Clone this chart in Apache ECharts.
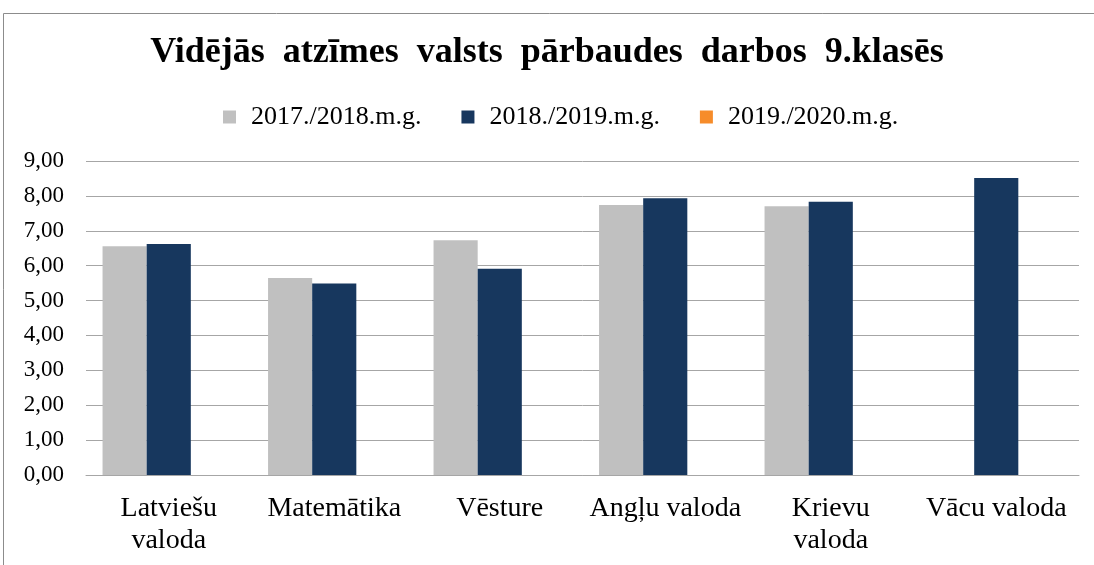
<!DOCTYPE html>
<html>
<head>
<meta charset="utf-8">
<script src="https://cdn.jsdelivr.net/npm/echarts@6/dist/echarts.min.js"></script>
<style>
  html, body { margin: 0; padding: 0; background: #fff; }
  #chart { width: 1094px; height: 565px; }
</style>
</head>
<body>
<div id="chart"></div>
<script>
// dati
const categories = ['Latviešu\nvaloda', 'Matemātika', 'Vēsture', 'Angļu valoda', 'Krievu\nvaloda', 'Vācu valoda']
const seriesNames = ['2017./2018.m.g.', '2018./2019.m.g.', '2019./2020.m.g.']
const values2018 = [6.56, 5.65, 6.73, 7.74, 7.70, null]
const values2019 = [6.62, 5.49, 5.91, 7.93, 7.83, 8.51]
const values2020 = [null, null, null, null, null, null]
const colors = ['#c0c0c0', '#17375e', '#f68c2a']

const serif = '"Liberation Serif", "DejaVu Serif", serif'

const chart = echarts.init(document.getElementById('chart'))

const option = {
    animation: false,
    color: colors,
    title: {
        text: 'Vidējās  atzīmes  valsts  pārbaudes  darbos  9.klasēs',
        left: 'center',
        top: 30,
        textStyle: {
            fontFamily: serif,
            fontSize: 36,
            fontWeight: 'bold',
            color: '#000'
        }
    },
    legend: {
        top: 99,
        left: 218,
        itemWidth: 13,
        itemHeight: 13,
        itemGap: 40,
        icon: 'rect',
        textStyle: {
            fontFamily: serif,
            fontSize: 26,
            color: '#000',
            padding: [0, 0, 0, 10]
        },
        data: seriesNames
    },
    graphic: [{
        type: 'rect',
        shape: { x: 3.5, y: 13.5, width: 1200, height: 600 },
        style: { fill: 'none', stroke: '#8c8c8c', lineWidth: 1 },
        silent: true
    }],
    grid: {
        left: 86,
        right: 15,
        top: 161,
        bottom: 90
    },
    xAxis: {
        type: 'category',
        data: categories,
        axisTick: { show: false },
        axisLine: { lineStyle: { color: '#a6a6a6', width: 1 } },
        axisLabel: {
            interval: 0,
            margin: 18,
            fontFamily: serif,
            fontSize: 28,
            lineHeight: 32,
            color: '#000'
        }
    },
    yAxis: {
        type: 'value',
        min: 0,
        max: 9,
        interval: 1,
        axisLine: { show: false },
        axisTick: { show: false },
        splitLine: { lineStyle: { color: '#a6a6a6', width: 1 } },
        axisLabel: {
            margin: 22,
            fontFamily: serif,
            fontSize: 23,
            color: '#000',
            formatter: (v) => v.toFixed(2).replace('.', ',')
        }
    },
    series: [
        { name: seriesNames[0], type: 'bar', data: values2018, barGap: '0%', barCategoryGap: '20%' },
        { name: seriesNames[1], type: 'bar', data: values2019, barGap: '0%', barCategoryGap: '20%' },
        { name: seriesNames[2], type: 'bar', data: values2020, barGap: '0%', barCategoryGap: '20%' }
    ]
}

chart.setOption(option)
</script>
</body>
</html>
